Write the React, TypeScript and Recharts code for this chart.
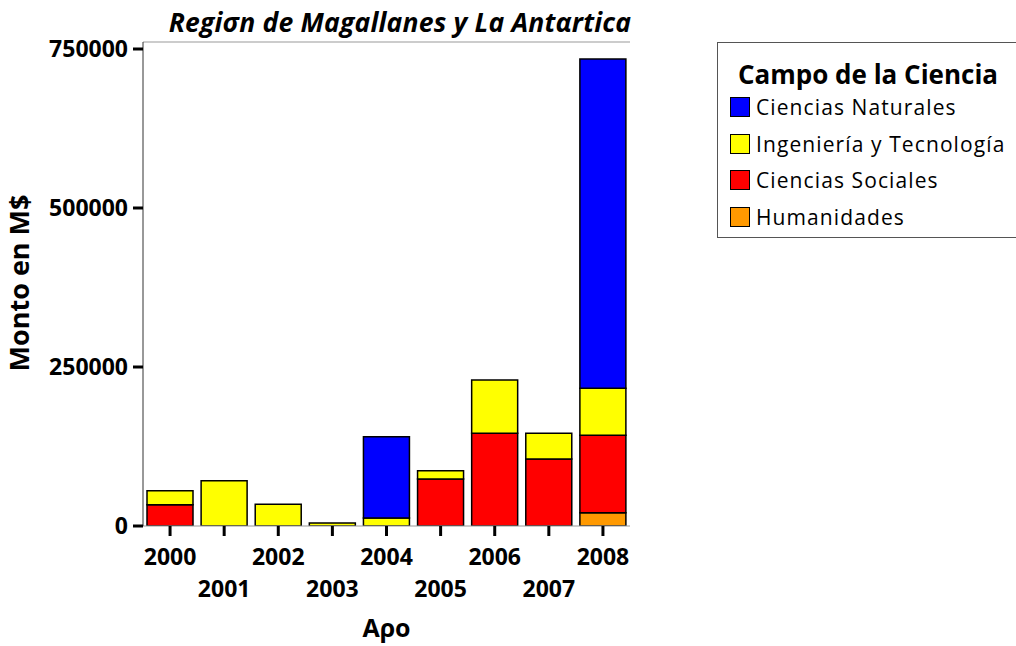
import { Bar, BarChart, Legend, XAxis, YAxis } from "recharts"

// Years on the x axis
const years = ["2000", "2001", "2002", "2003", "2004", "2005", "2006", "2007", "2008"]

// Amounts in M$ per field (stack order: bottom to top)
const humanidades = [0, 0, 0, 0, 0, 0, 0, 0, 20900]
const cienciasSociales = [33500, 0, 0, 0, 0, 73900, 145800, 105300, 121700]
const ingenieria = [22000, 71200, 34100, 4700, 12600, 13000, 83700, 40500, 73900]
const cienciasNaturales = [0, 0, 0, 0, 127800, 0, 0, 0, 517800]

const yTicks = [0, 250000, 500000, 750000]

const FONT = "'Open Sans', sans-serif"

// series drawn bottom-up, legend reads top-down
const SERIES = [
  { key: "hum", name: "Humanidades", color: "#FF9900", values: humanidades },
  { key: "soc", name: "Ciencias Sociales", color: "#FF0000", values: cienciasSociales },
  { key: "ing", name: "Ingeniería y Tecnología", color: "#FFFF00", values: ingenieria },
  { key: "nat", name: "Ciencias Naturales", color: "#0000FF", values: cienciasNaturales },
]

const data = years.map((year, i) => {
  const row: Record<string, string | number> = { year }
  SERIES.forEach((s) => {
    row[s.key] = s.values[i]
  })
  return row
})

// two-row staggered year labels
const StaggerTick = (props: any) => {
  const { x, y, payload } = props
  const idx = props.index ?? payload.index ?? 0
  return (
    <text x={x} y={y + (idx % 2 ? 59 : 27)} textAnchor="middle" fontFamily={FONT} fontWeight={700} fontSize={23} fill="#000">
      {payload.value}
    </text>
  )
}

const LegendBox = () => (
  <div style={{ fontFamily: FONT, color: "#000" }}>
    <div style={{ fontSize: 26, fontWeight: 700, lineHeight: "30px", paddingLeft: 20, marginTop: 16, marginBottom: 0 }}>Campo de la Ciencia</div>
    {[...SERIES].reverse().map((s) => (
      <div key={s.key} style={{ display: "flex", alignItems: "center", height: 36.5, paddingLeft: 12 }}>
        <span style={{ width: 18, height: 18, background: s.color, border: "1.5px solid #000", marginRight: 6, flexShrink: 0 }} />
        <span style={{ fontSize: 21, letterSpacing: 1.1, whiteSpace: "nowrap" }}>{s.name}</span>
      </div>
    ))}
  </div>
)

// title and x-axis title, drawn as free text in the svg
const AxisTitles = (p: any) => (
  <g>
    <text x={400} y={32} textAnchor="middle" fontFamily={FONT} fontWeight={700} fontStyle="italic" fontSize={26.5} letterSpacing={0.2} fill="#000">
      Regiσn de Magallanes y La Antαrtica
    </text>
    <text x={p.viewBox.x + p.viewBox.width / 2} y={637} textAnchor="middle" fontFamily={FONT} fontWeight={700} fontSize={25} fill="#000">
      Aρo
    </text>
  </g>
)

export default function App() {
  return (
    <div style={{ position: "absolute", left: 0, top: 0, width: 1016, height: 646, background: "#fff", fontFamily: FONT, overflow: "hidden" }}>
      <BarChart width={1016} height={646} data={data} margin={{ top: 41, right: 386, left: 0, bottom: 0 }}>
        <XAxis
          dataKey="year"
          height={120}
          interval={0}
          tickSize={10}
          axisLine={{ stroke: "#999" }}
          tickLine={{ stroke: "#000", strokeWidth: 3 }}
          tick={<StaggerTick />}
          label={{ value: "Aρo", content: AxisTitles }}
        />
        <XAxis
          xAxisId="frame"
          orientation="top"
          dataKey="year"
          height={1}
          tick={false}
          tickLine={false}
          axisLine={{ stroke: "#999" }}
        />
        <YAxis
          width={143}
          domain={[0, 761000]}
          ticks={yTicks}
          allowDataOverflow
          tickSize={10}
          tickMargin={5}
          axisLine={{ stroke: "#333" }}
          tickLine={{ stroke: "#000", strokeWidth: 3 }}
          tick={{ fontFamily: FONT, fontWeight: 700, fontSize: 23, fill: "#000" }}
          label={{
            value: "Monto en M$",
            content: () => (
              <text x={29} y={283} transform="rotate(-90, 29, 283)" textAnchor="middle" fontFamily={FONT} fontWeight={700} fontSize={27} fill="#000">
                Monto en M$
              </text>
            ),
          }}
        />
        <YAxis yAxisId="frame" orientation="right" width={0} tick={false} tickLine={false} axisLine={{ stroke: "#999" }} />
        {SERIES.map((s) => (
          <Bar key={s.key} dataKey={s.key} name={s.name} stackId="a" fill={s.color} stroke="#000" strokeWidth={1.5} barSize={46} isAnimationActive={false} />
        ))}
        <Legend
          layout="horizontal"
          align="center"
          verticalAlign="middle"
          content={<LegendBox />}
          wrapperStyle={{ position: "absolute", left: 717, top: 42, width: 298, height: 194, border: "1.5px solid #555", borderRight: "none", background: "#fff" }}
        />
      </BarChart>
    </div>
  )
}
